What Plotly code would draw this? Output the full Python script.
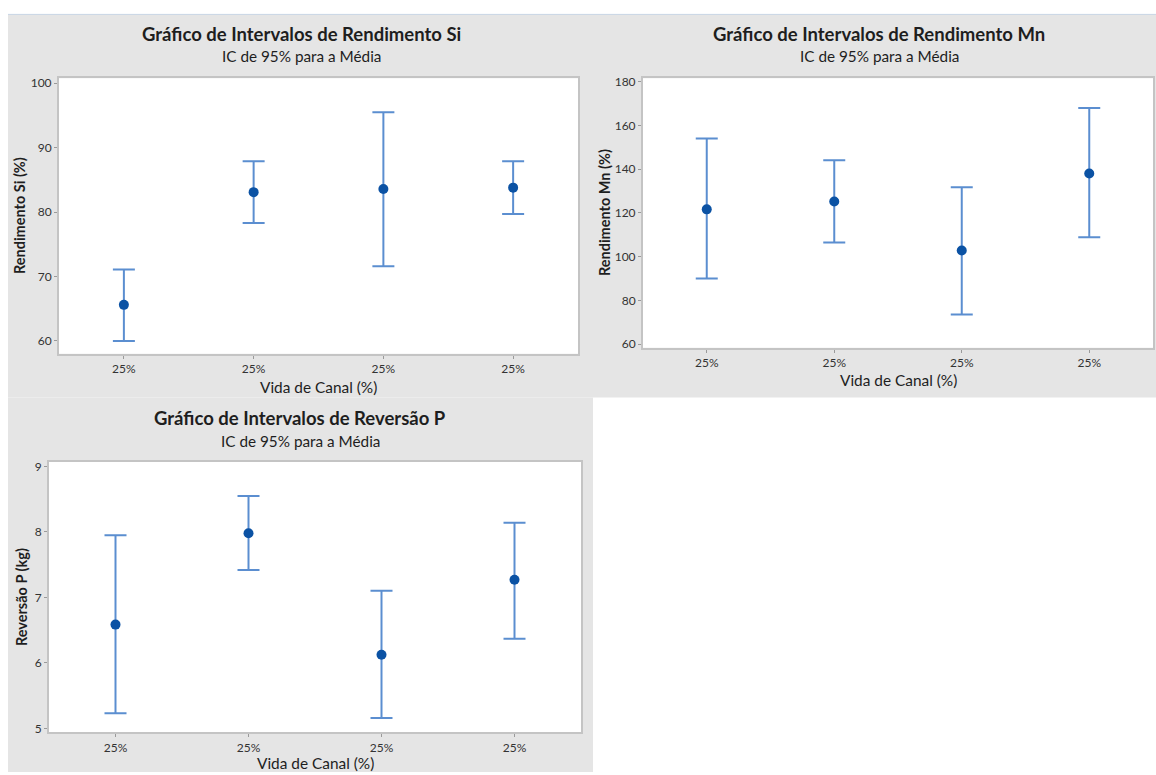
import plotly.graph_objects as go

# ---------------- data ----------------
categories = ["25%", "25%", "25%", "25%"]
positions = [0, 1, 2, 3]

si_mean = [65.6, 83.1, 83.6, 83.8]
si_low = [60.0, 78.3, 71.6, 79.7]
si_high = [71.1, 87.9, 95.5, 87.9]

mn_mean = [121.6, 125.2, 102.8, 138.0]
mn_low = [90.0, 106.5, 73.6, 108.9]
mn_high = [154.0, 144.0, 131.7, 167.9]

p_mean = [6.585, 7.98, 6.125, 7.27]
p_low = [5.23, 7.42, 5.16, 6.37]
p_high = [7.95, 8.55, 7.10, 8.14]

si_ticks = [60, 70, 80, 90, 100]
mn_ticks = [60, 80, 100, 120, 140, 160, 180]
p_ticks = [5, 6, 7, 8, 9]

titles = ["Gráfico de Intervalos de Rendimento Si",
          "Gráfico de Intervalos de Rendimento Mn",
          "Gráfico de Intervalos de Reversão P"]
subtitle = "IC de 95% para a Média"
x_title = "Vida de Canal (%)"
y_titles = ["Rendimento Si (%)", "Rendimento Mn (%)", "Reversão P (kg)"]

# ---------------- layout helpers ----------------
W, H = 1156, 775
def fx(px):
    return px / W
def fy(py):
    return 1 - py / H

FONT = "Lato"
GRAY_BG = "#e5e5e5"
BAR_COLOR = "#5b8ed0"
MEAN_COLOR = "#0b52a4"
TEXT = "#1e1e1e"

fig = go.Figure()

panels = [
    dict(mean=si_mean, low=si_low, high=si_high, ticks=si_ticks, yr=[58.0, 100.77],
         box=(59, 578, 75, 353), ax="", title_xy=(301, 30, 52), ytitle_x=19, xtitle_y=386),
    dict(mean=mn_mean, low=mn_low, high=mn_high, ticks=mn_ticks, yr=[58.3, 181.5],
         box=(643, 1153, 75, 347), ax="2", title_xy=(879, 30, 52), ytitle_x=604, xtitle_y=379),
    dict(mean=p_mean, low=p_low, high=p_high, ticks=p_ticks, yr=[4.94, 9.07],
         box=(49, 581, 462, 735), ax="3", title_xy=(300, 418, 441), ytitle_x=21, xtitle_y=766),
]

shapes = [
    dict(type="rect", xref="paper", yref="paper", x0=fx(8), x1=1, y0=fy(397), y1=fy(10),
         fillcolor=GRAY_BG, line=dict(width=0), layer="below"),
    dict(type="rect", xref="paper", yref="paper", x0=fx(8), x1=fx(593), y0=0, y1=fy(397),
         fillcolor=GRAY_BG, line=dict(width=0), layer="below"),
    dict(type="line", xref="paper", yref="paper", x0=fx(8), x1=1, y0=fy(10.5), y1=fy(10.5),
         line=dict(color="#c9d6e6", width=1), layer="below"),
]
annotations = []
layout_axes = {}

for i, p in enumerate(panels):
    ax = p["ax"]
    x0, x1, y0, y1 = p["box"]
    err_plus = [h - m for h, m in zip(p["high"], p["mean"])]
    err_minus = [m - l for m, l in zip(p["mean"], p["low"])]
    fig.add_trace(go.Scatter(
        x=positions, y=p["mean"], mode="markers",
        xaxis="x" + ax, yaxis="y" + ax,
        marker=dict(color=MEAN_COLOR, size=10),
        error_y=dict(type="data", symmetric=False, array=err_plus, arrayminus=err_minus,
                     color=BAR_COLOR, thickness=2, width=11),
        showlegend=False, hoverinfo="y",
    ))
    common = dict(showline=True, mirror=True, linecolor="#c4c4c4", linewidth=2,
                  showgrid=False, zeroline=False, ticks="outside", ticklen=3,
                  tickcolor="#9a9a9a", tickwidth=1,
                  tickfont=dict(family=FONT, size=12, color="#333333"))
    layout_axes["xaxis" + ax] = dict(common, domain=[fx(x0), fx(x1)], anchor="y" + ax,
                                     range=[-0.5, 3.5], tickmode="array",
                                     tickvals=positions, ticktext=categories)
    layout_axes["yaxis" + ax] = dict(common, domain=[fy(y1), fy(y0)], anchor="x" + ax,
                                     range=p["yr"], tickmode="array", tickvals=p["ticks"])
    shapes.append(dict(type="rect", xref="paper", yref="paper", x0=fx(x0), x1=fx(x1),
                       y0=fy(y1), y1=fy(y0), fillcolor="white", line=dict(width=0),
                       layer="below"))
    tx, ty, sy = p["title_xy"]
    annotations.append(dict(text="<b>" + titles[i] + "</b>", x=fx(tx), y=fy(ty),
                            xref="paper", yref="paper", showarrow=False,
                            xanchor="center", yanchor="middle",
                            font=dict(family=FONT, size=18.5, color=TEXT)))
    annotations.append(dict(text=subtitle, x=fx(tx), y=fy(sy),
                            xref="paper", yref="paper", showarrow=False,
                            xanchor="center", yanchor="middle",
                            font=dict(family=FONT, size=15.3, color=TEXT)))
    annotations.append(dict(text=x_title, x=fx((x0 + x1) / 2), y=fy(p["xtitle_y"]),
                            xref="paper", yref="paper", showarrow=False,
                            xanchor="center", yanchor="middle",
                            font=dict(family=FONT, size=15.4, color=TEXT)))
    annotations.append(dict(text="<b>" + y_titles[i] + "</b>", x=fx(p["ytitle_x"]),
                            y=fy((y0 + y1) / 2), xref="paper", yref="paper",
                            showarrow=False, textangle=-90,
                            xanchor="center", yanchor="middle",
                            font=dict(family=FONT, size=14.5, color=TEXT)))

fig.update_layout(
    width=W, height=H,
    margin=dict(l=0, r=0, t=0, b=0),
    paper_bgcolor="white", plot_bgcolor="white",
    shapes=shapes, annotations=annotations,
    **layout_axes,
)

fig.write_html("out.html", config={"displayModeBar": False},
               post_script="document.body.style.margin='0';")
